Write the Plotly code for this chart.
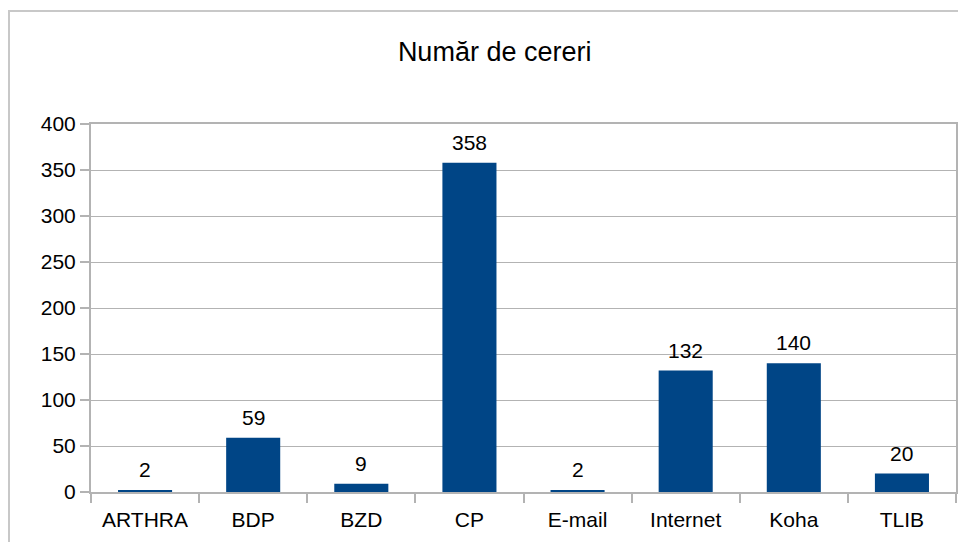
import plotly.graph_objects as go

categories = ["ARTHRA", "BDP", "BZD", "CP", "E-mail", "Internet", "Koha", "TLIB"]
cereri = [2, 59, 9, 358, 2, 132, 140, 20]
y_ticks = [0, 50, 100, 150, 200, 250, 300, 350, 400]

font = "Liberation Sans, Arial, sans-serif"

fig = go.Figure(go.Bar(
    x=categories,
    y=cereri,
    marker=dict(color="#004586", line=dict(width=0)),
    hoverinfo="x+y",
))

# value labels above bars
for cat, val in zip(categories, cereri):
    fig.add_annotation(x=cat, y=val, text=str(val), showarrow=False,
                       yanchor="bottom", yshift=7,
                       font=dict(family=font, size=21, color="#000000"))

# page body has an 8px margin, so the figure is a bit smaller than the window
fig.update_layout(
    width=958, height=534,
    margin=dict(l=83, r=10, t=116, b=50),
    paper_bgcolor="white", plot_bgcolor="white",
    bargap=0.5,
    showlegend=False,
    font=dict(family=font, size=21, color="#000000"),
    title=dict(text="Număr de cereri", x=0.508, xanchor="center",
               y=0.918, yanchor="middle", font=dict(family=font, size=27)),
    xaxis=dict(
        automargin=False,
        showline=True, linecolor="#b3b3b3", linewidth=2, mirror=True,
        ticks="outside", tickson="boundaries", ticklen=9, tickcolor="#b3b3b3", tickwidth=2,
        ticklabelstandoff=8,
        showgrid=False,
    ),
    yaxis=dict(
        automargin=False,
        range=[0, 400], tickvals=y_ticks,
        showline=True, linecolor="#b3b3b3", linewidth=2, mirror=True,
        ticks="outside", ticklen=9, tickcolor="#b3b3b3", tickwidth=2,
        ticklabelstandoff=0,
        showgrid=True, gridcolor="#b3b3b3", gridwidth=1, zeroline=False,
    ),
)

# chart outer frame
fig.add_shape(type="rect", xref="paper", yref="paper",
              x0=-0.0948, y0=-0.3, x1=1.1, y1=1.307,
              line=dict(color="#c8c8c8", width=2), layer="below")

fig.write_html("out.html")
